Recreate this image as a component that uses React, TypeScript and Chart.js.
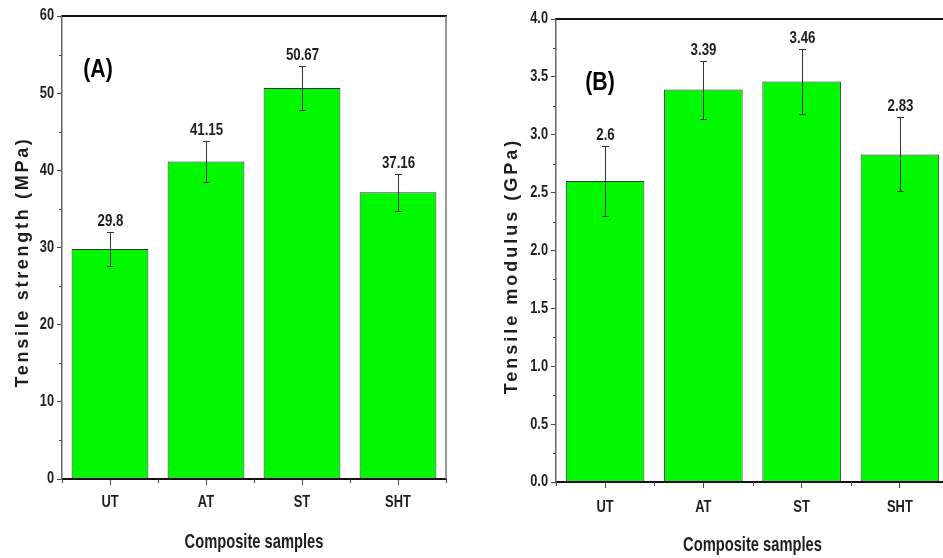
import { useEffect, useRef } from 'react';
import { Chart, registerables } from 'chart.js';

Chart.register(...registerables);

// Sample groups and measured properties
const categories = ['UT', 'AT', 'ST', 'SHT'];
const strengthValues = [29.8, 41.15, 50.67, 37.16];
const strengthErrors = [2.15, 2.7, 2.9, 2.4];
const modulusValues = [2.6, 3.39, 3.46, 2.83];
const modulusErrors = [0.3, 0.25, 0.28, 0.32];

// Axis ranges: [min, max, major step, minor step, decimals]
const strengthAxis = [0, 60, 10, 5, 0];
const modulusAxis = [0, 4, 0.5, 0.25, 1];

const SANS = "'Liberation Sans', Arial, sans-serif";
const BAR_GREEN = '#00f800';
const INK = '#1e1e1e';

// Bold text squeezed horizontally to give a narrow face
function narrowText(
  ctx: CanvasRenderingContext2D,
  text: string,
  x: number,
  y: number,
  size: number,
  sx: number,
  align: CanvasTextAlign,
  baseline: CanvasTextBaseline,
) {
  ctx.save();
  ctx.font = `bold ${size}px ${SANS}`;
  ctx.textAlign = align;
  ctx.textBaseline = baseline;
  ctx.translate(x, y);
  ctx.scale(sx, 1);
  ctx.fillText(text, 0, 0);
  ctx.restore();
}

const decorPlugin = {
  id: 'decor',
  afterDatasetsDraw(chart: any, _args: any, opts: any) {
    const { ctx } = chart;
    const y = chart.scales.y;
    const meta = chart.getDatasetMeta(0);
    const values: number[] = opts.values;
    const errors: number[] = opts.errors;
    ctx.save();
    meta.data.forEach((bar: any, i: number) => {
      const x = Math.round(bar.x);
      const top = Math.round(y.getPixelForValue(values[i] + errors[i]));
      const bot = Math.round(y.getPixelForValue(values[i] - errors[i]));
      ctx.strokeStyle = '#333';
      ctx.lineWidth = 1;
      ctx.beginPath();
      ctx.moveTo(x + 0.5, top);
      ctx.lineTo(x + 0.5, bot);
      ctx.moveTo(x - 3, top + 0.5);
      ctx.lineTo(x + 4, top + 0.5);
      ctx.moveTo(x - 3, bot + 0.5);
      ctx.lineTo(x + 4, bot + 0.5);
      ctx.stroke();
      ctx.fillStyle = INK;
      narrowText(ctx, String(values[i]), x + 0.5, top - 6, 17, 0.78, 'center', 'alphabetic');
    });
    ctx.restore();
  },
  afterDraw(chart: any, _args: any, opts: any) {
    const { ctx, chartArea } = chart;
    const x = chart.scales.x;
    const y = chart.scales.y;
    const [min, max, , minor, decimals] = opts.axis;
    ctx.save();
    // frame: top and right edges
    ctx.strokeStyle = '#111';
    ctx.lineWidth = 2;
    ctx.beginPath();
    ctx.moveTo(chartArea.left, chartArea.top);
    ctx.lineTo(chartArea.right + 1, chartArea.top);
    ctx.stroke();
    ctx.strokeStyle = '#777';
    ctx.lineWidth = 1.5;
    ctx.beginPath();
    ctx.moveTo(chartArea.right, chartArea.top);
    ctx.lineTo(chartArea.right, chartArea.bottom);
    ctx.stroke();
    // minor ticks on the value axis
    ctx.strokeStyle = '#444';
    ctx.lineWidth = 1;
    ctx.beginPath();
    for (let v = min + minor; v < max; v += minor * 2) {
      const py = Math.round(y.getPixelForValue(v)) + 0.5;
      ctx.moveTo(chartArea.left - 3, py);
      ctx.lineTo(chartArea.left, py);
    }
    // ticks at category boundaries
    const n = categories.length;
    for (let i = 0; i <= n; i++) {
      const px = Math.round(x.getPixelForValue(i - 0.5)) + 0.5;
      ctx.moveTo(px, chartArea.bottom);
      ctx.lineTo(px, chartArea.bottom + 4);
    }
    ctx.stroke();
    // tick labels, taken from the scales' own ticks
    ctx.fillStyle = INK;
    y.ticks.forEach((t: any, i: number) => {
      const py = y.getPixelForTick(i);
      narrowText(ctx, Number(t.value).toFixed(decimals), chartArea.left - 8, py, 16, 0.8, 'right', 'middle');
    });
    x.ticks.forEach((t: any, i: number) => {
      const px = x.getPixelForTick(i);
      narrowText(ctx, String(x.getLabelForValue(t.value)), px, opts.xTickY, 17, 0.76, 'center', 'middle');
    });
    // panel label
    ctx.fillStyle = '#000';
    narrowText(ctx, opts.panel, opts.panelX, opts.panelY, 25, 0.85, 'center', 'middle');
    // axis titles
    ctx.fillStyle = INK;
    narrowText(ctx, 'Composite samples', (chartArea.left + chartArea.right) / 2, opts.xTitleY, 21, 0.7, 'center', 'middle');
    ctx.translate(opts.yTitleX, opts.yTitleY);
    ctx.rotate(-Math.PI / 2);
    ctx.font = `bold 18px ${SANS}`;
    ctx.textAlign = 'center';
    ctx.textBaseline = 'middle';
    (ctx as any).letterSpacing = opts.spacing;
    ctx.fillText(opts.yTitle, 0, 0);
    ctx.restore();
  },
};

type PanelProps = {
  left: number;
  width: number;
  values: number[];
  errors: number[];
  axis: number[];
  yWidth: number;
  xHeight: number;
  padTop: number;
  padRight: number;
  panel: string;
  panelX: number;
  panelY: number;
  yTitle: string;
  yTitleX: number;
  yTitleY: number;
  xTitleY: number;
  xTickY: number;
  spacing: string;
};

function Panel(p: PanelProps) {
  const ref = useRef<HTMLCanvasElement>(null);
  useEffect(() => {
    const [min, max, step] = p.axis;
    const chart = new Chart(ref.current!, {
      type: 'bar',
      data: {
        labels: categories,
        datasets: [
          {
            data: p.values,
            backgroundColor: BAR_GREEN,
            borderColor: '#333',
            borderWidth: 1,
            borderSkipped: false,
            barPercentage: 0.8,
            categoryPercentage: 1,
          },
        ],
      },
      options: {
        animation: false,
        responsive: false,
        layout: { padding: { left: 0, right: p.padRight, top: p.padTop, bottom: 0 } },
        plugins: {
          legend: { display: false },
          tooltip: { enabled: false },
          decor: {
            values: p.values,
            errors: p.errors,
            axis: p.axis,
            panel: p.panel,
            panelX: p.panelX,
            panelY: p.panelY,
            yTitle: p.yTitle,
            yTitleX: p.yTitleX,
            yTitleY: p.yTitleY,
            xTitleY: p.xTitleY,
            xTickY: p.xTickY,
            spacing: p.spacing,
          },
        } as any,
        scales: {
          x: {
            offset: true,
            grid: { display: true, offset: false, drawOnChartArea: false, tickLength: 6, color: '#444' },
            border: { color: '#111', width: 2 },
            ticks: { display: false },
            afterFit: (s: any) => {
              s.height = p.xHeight;
            },
          },
          y: {
            min,
            max,
            grid: { display: true, drawOnChartArea: false, tickLength: 5, color: '#444' },
            border: { color: '#666', width: 1.5 },
            ticks: { display: false, stepSize: step },
            afterFit: (s: any) => {
              s.width = p.yWidth;
            },
          },
        },
      },
      plugins: [decorPlugin],
    });
    return () => chart.destroy();
  }, []);
  return (
    <div style={{ position: 'absolute', left: p.left, top: 0 }}>
      <canvas ref={ref} width={p.width} height={558} style={{ display: 'block' }} />
    </div>
  );
}

export default function App() {
  return (
    <div
      style={{
        position: 'fixed',
        left: 0,
        top: 0,
        width: 943,
        height: 558,
        overflow: 'hidden',
        background: '#fff',
      }}
    >
      <Panel
        left={0}
        width={470}
        values={strengthValues}
        errors={strengthErrors}
        axis={strengthAxis}
        yWidth={62}
        xHeight={79}
        padTop={16}
        padRight={24}
        panel="(A)"
        panelX={98}
        panelY={70}
        yTitle="Tensile strength (MPa)"
        yTitleX={23}
        yTitleY={262}
        xTitleY={542}
        xTickY={502}
        spacing="2.7px"
      />
      <Panel
        left={470}
        width={490}
        values={modulusValues}
        errors={modulusErrors}
        axis={modulusAxis}
        yWidth={86}
        xHeight={76}
        padTop={19}
        padRight={11}
        panel="(B)"
        panelX={130}
        panelY={83}
        yTitle="Tensile modulus (GPa)"
        yTitleX={42}
        yTitleY={266}
        xTitleY={545}
        xTickY={507}
        spacing="3px"
      />
    </div>
  );
}
